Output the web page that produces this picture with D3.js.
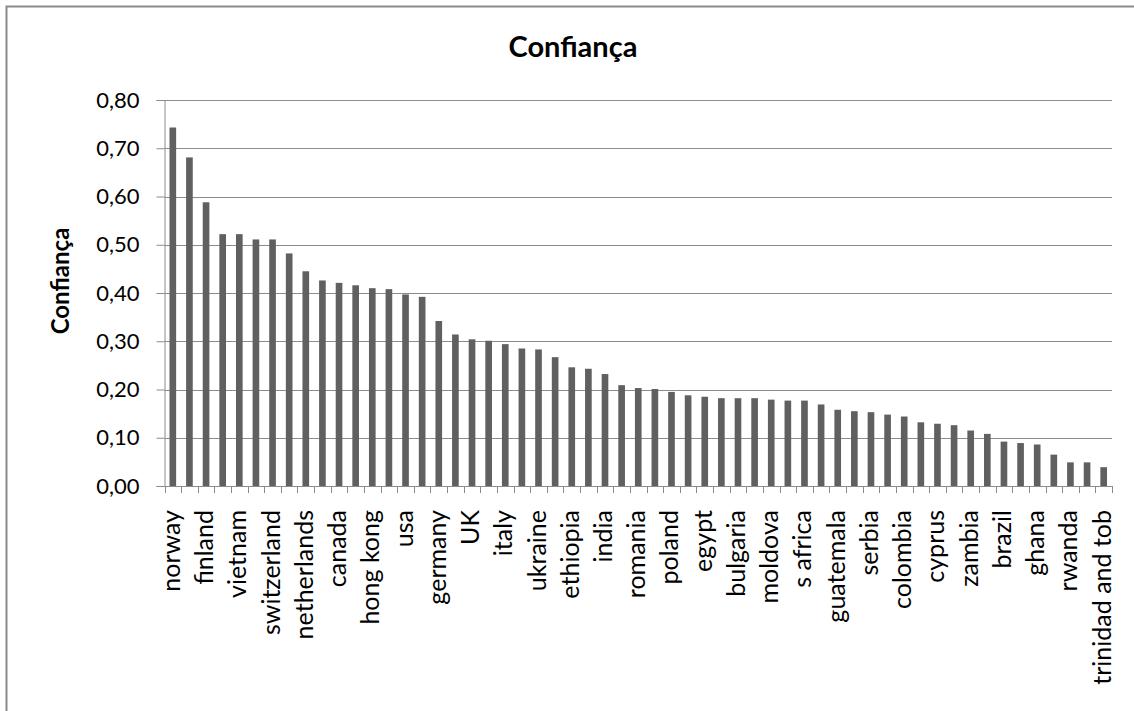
<!DOCTYPE html>
<html>
<head>
<meta charset="utf-8">
<script src="https://cdn.jsdelivr.net/npm/d3@7"></script>
<style>
  html, body { margin: 0; padding: 0; background: #fff; }
  svg { display: block; }
  text { font-family: Lato, "Open Sans", sans-serif; fill: #000; }
</style>
</head>
<body>
<svg id="chart" width="1134" height="711"></svg>
<script>
// Confidence index by country, sorted high to low (every other country is labelled)
const countryLabels = [
  "norway", "finland", "vietnam", "switzerland", "netherlands", "canada",
  "hong kong", "usa", "germany", "UK", "italy", "ukraine", "ethiopia",
  "india", "romania", "poland", "egypt", "bulgaria", "moldova", "s africa",
  "guatemala", "serbia", "colombia", "cyprus", "zambia", "brazil", "ghana",
  "rwanda", "trinidad and tob"
];

const confidence = [
  0.743, 0.681, 0.588, 0.522, 0.522, 0.511, 0.511, 0.482, 0.445, 0.426,
  0.421, 0.416, 0.410, 0.408, 0.397, 0.392, 0.342, 0.314, 0.304, 0.301,
  0.294, 0.285, 0.283, 0.267, 0.246, 0.243, 0.232, 0.209, 0.203, 0.201,
  0.195, 0.188, 0.185, 0.182, 0.182, 0.182, 0.179, 0.177, 0.177, 0.169,
  0.158, 0.155, 0.153, 0.148, 0.144, 0.132, 0.129, 0.126, 0.115, 0.108,
  0.092, 0.089, 0.086, 0.065, 0.049, 0.049, 0.039
];

const yTicks = [0, 0.1, 0.2, 0.3, 0.4, 0.5, 0.6, 0.7, 0.8];
const chartTitle = "Confiança";
const yAxisTitle = "Confiança";

const svg = d3.select("#chart");
const plot = { left: 164.5, right: 1112, top: 100, bottom: 486 };

const ptBR = d3.formatLocale({ decimal: ",", thousands: ".", grouping: [3], currency: ["R$", ""] });
const fmt = ptBR.format(".2f");

const idx = d3.range(confidence.length);
const x = d3.scaleBand()
  .domain(idx)
  .range([plot.left, plot.right])
  .paddingInner(0.6)
  .paddingOuter(0.3);

const y = d3.scaleLinear()
  .domain([0, 0.8])
  .range([plot.bottom, plot.top]);

const gridColor = "#8c8c8c";

// outer chart frame
svg.append("rect")
  .attr("x", 6.5).attr("y", 6.5)
  .attr("width", 1140).attr("height", 720)
  .attr("fill", "none")
  .attr("stroke", "#8a8a8a")
  .attr("stroke-width", 2);

// horizontal gridlines
svg.append("g")
  .selectAll("line")
  .data(yTicks.filter(d => d > 0))
  .join("line")
  .attr("x1", plot.left).attr("x2", plot.right)
  .attr("y1", d => Math.round(y(d)) + 0.5)
  .attr("y2", d => Math.round(y(d)) + 0.5)
  .attr("stroke", gridColor)
  .attr("stroke-width", 1);

// y axis
const yAxis = d3.axisLeft(y)
  .tickValues(yTicks)
  .tickFormat(fmt)
  .tickSize(8)
  .tickPadding(17);

const gy = svg.append("g")
  .attr("transform", `translate(${plot.left},0)`)
  .call(yAxis);
gy.select(".domain").attr("stroke", gridColor);
gy.selectAll(".tick line").attr("stroke", gridColor);
gy.selectAll(".tick text")
  .attr("font-family", "Lato, sans-serif")
  .attr("font-size", 22)
  .attr("fill", "#000");

// bars
svg.append("g")
  .selectAll("rect")
  .data(confidence)
  .join("rect")
  .attr("x", (d, i) => x(i))
  .attr("width", x.bandwidth())
  .attr("y", d => y(d))
  .attr("height", d => y(0) - y(d))
  .attr("fill", "#606060");

// x axis baseline with tick marks at category boundaries
const step = x.step();
const boundaries = d3.range(confidence.length + 1).map(i => plot.left + i * step);
const gx = svg.append("g");
gx.append("line")
  .attr("x1", plot.left).attr("x2", plot.right)
  .attr("y1", plot.bottom + 0.5).attr("y2", plot.bottom + 0.5)
  .attr("stroke", gridColor);
gx.selectAll("line.tick")
  .data(boundaries)
  .join("line")
  .attr("class", "tick")
  .attr("x1", d => Math.round(d) + 0.5).attr("x2", d => Math.round(d) + 0.5)
  .attr("y1", plot.bottom).attr("y2", plot.bottom + 7)
  .attr("stroke", gridColor);

// category labels, every other country
gx.selectAll("text")
  .data(idx.filter(i => i % 2 === 0))
  .join("text")
  .attr("transform", i => `translate(${x(i) + x.bandwidth() / 2 + 7},510) rotate(-90)`)
  .attr("text-anchor", "end")
  .attr("font-size", 25)
  .text(i => countryLabels[i / 2]);

// chart title
svg.append("text")
  .attr("x", 573).attr("y", 57)
  .attr("text-anchor", "middle")
  .attr("font-weight", "bold")
  .attr("font-size", 29)
  .text(chartTitle);

// y axis title
svg.append("text")
  .attr("transform", "translate(69,281) rotate(-90)")
  .attr("text-anchor", "middle")
  .attr("font-weight", "bold")
  .attr("font-size", 24)
  .text(yAxisTitle);
</script>
</body>
</html>
